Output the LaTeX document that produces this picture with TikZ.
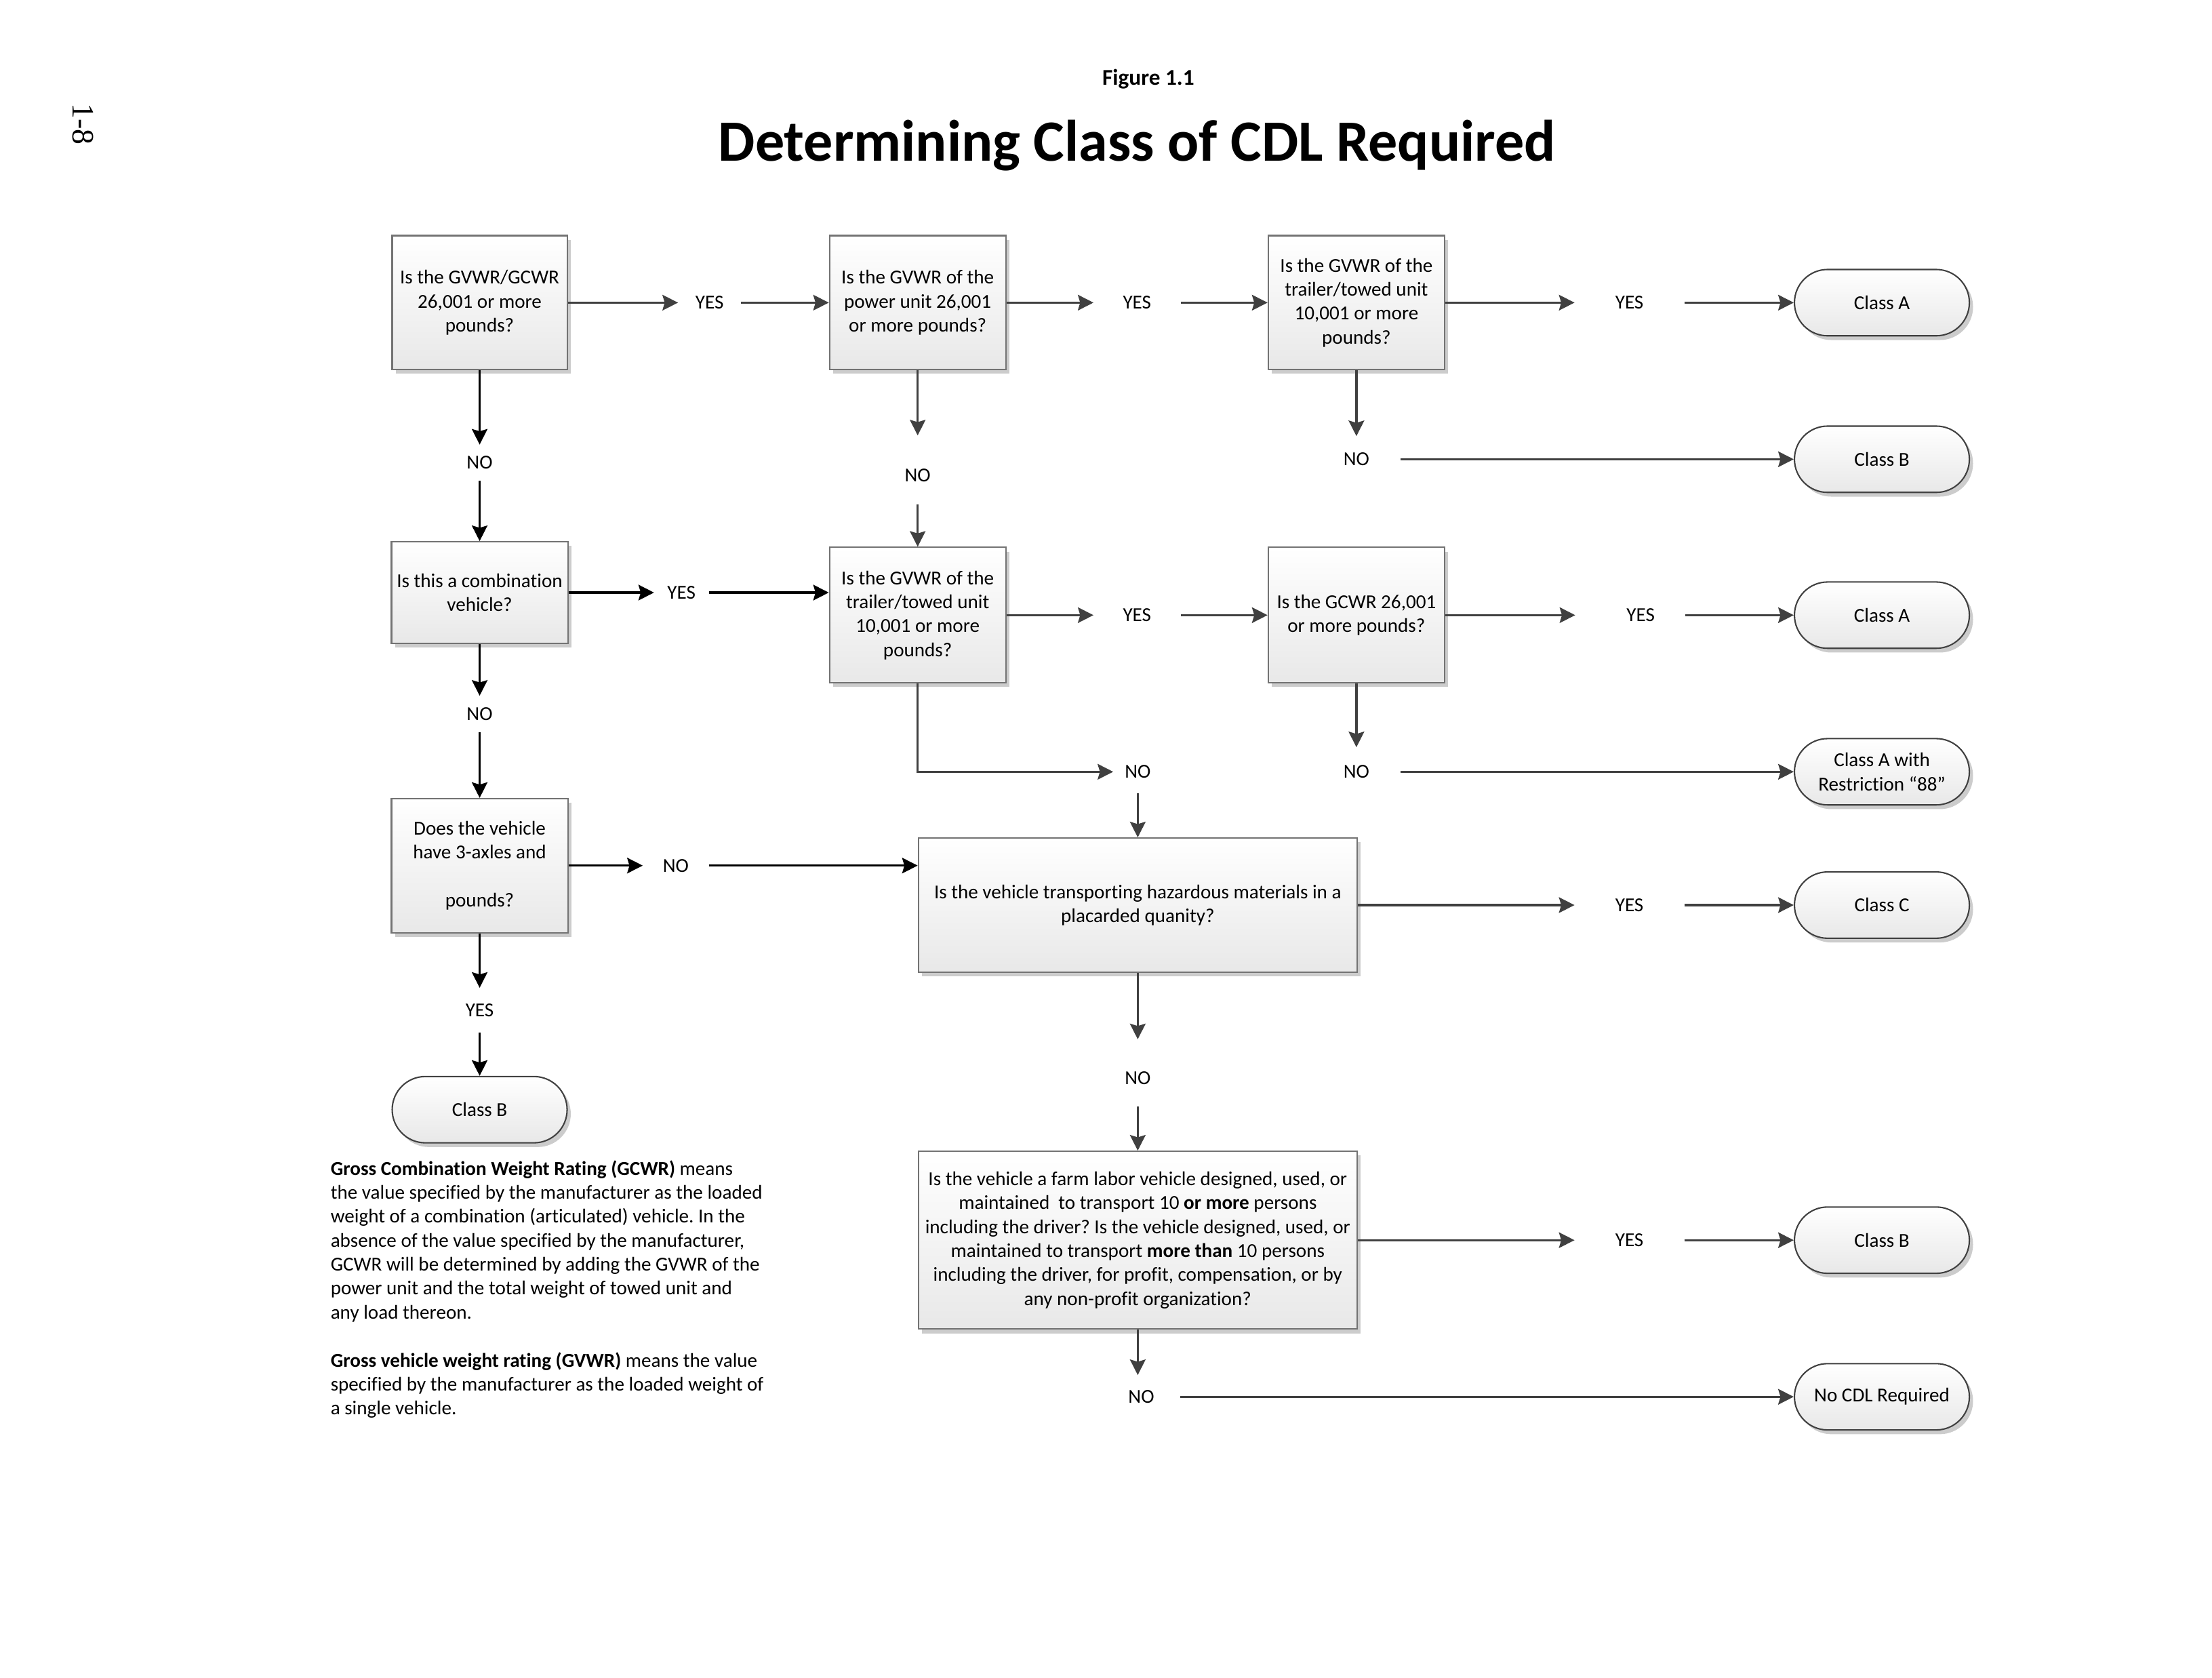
\documentclass[tikz,border=0pt]{standalone}
\usepackage{fontspec}
\setmainfont{Carlito}[Ligatures=NoCommon]
\newfontfamily\pgfont{Liberation Serif}
\usetikzlibrary{arrows.meta,shadows}
\frenchspacing
\begin{document}
\begin{tikzpicture}[x=0.5pt,y=-0.5pt,
  every node/.style={font=\fontsize{7}{8.5}\selectfont},
  qbox/.style={draw=black!55, line width=0.5pt, top color=white, bottom color=black!9,
    align=center, inner sep=1pt,
    drop shadow={shadow xshift=1.3pt,shadow yshift=-1.5pt,fill=black!20,opacity=1}},
  qa/.style={qbox, minimum width=62.5pt, minimum height=47.5pt},
  qw/.style={qbox, minimum width=155.5pt},
  pill/.style={draw=black!75, line width=0.5pt, top color=white, bottom color=black!9,
    rounded corners=11.75pt, minimum width=62pt, minimum height=23.5pt, align=center, inner sep=1pt,
    drop shadow={shadow xshift=1.3pt,shadow yshift=-1.5pt,fill=black!20,opacity=1}},
  lbl/.style={inner sep=0pt},
  arr/.style={-{Stealth[length=5.5pt,width=5.5pt,inset=0.8pt]}, line width=0.8pt, draw=black!75},
  arrk/.style={arr, draw=black}]
\useasboundingbox (0,0) rectangle (1568,1189);

% titles
\node[font=\bfseries\fontsize{8}{9.6}\selectfont] (fig) at (814,56) {Figure 1.1};
\node[font=\bfseries\fontsize{20.7}{24}\selectfont] (title) at (806,103) {Determining Class of CDL Required};
\node[font=\pgfont\fontsize{11}{13}\selectfont, rotate=-90] (pg) at (59,88) {1-8};

% question boxes
\node[qa, minimum width=62pt] (b1) at (340,214.5) {Is the GVWR/GCWR\\26,001 or more\\pounds?};
\node[qa] (b2) at (650.5,214.5) {Is the GVWR of the\\power unit 26,001\\or more pounds?};
\node[qa] (b3) at (961.5,214.5) {Is the GVWR of the\\trailer/towed unit\\10,001 or more\\pounds?};
\node[qbox, minimum width=62.5pt, minimum height=36pt] (b4) at (340,420) {Is this a combination\\vehicle?};
\node[qa, minimum height=48pt] (b5) at (650.5,436) {Is the GVWR of the\\trailer/towed unit\\10,001 or more\\pounds?};
\node[qa, minimum height=48pt] (b6) at (961.5,436) {Is the GCWR 26,001\\or more pounds?};
\node[qa] (b7) at (340,613.5) {Does the vehicle\\have 3-axles and\\\mbox{}\\pounds?};
\node[qw, minimum height=47.5pt] (b8) at (806.5,641.5) {Is the vehicle transporting hazardous materials in a\\placarded quanity?};
\node[qw, minimum height=63pt] (b9) at (806.5,879) {Is the vehicle a farm labor vehicle designed, used, or\\maintained\ \ to transport 10 \textbf{or more} persons\\including the driver? Is the vehicle designed, used, or\\maintained to transport \textbf{more than} 10 persons\\including the driver, for profit, compensation, or by\\any non-profit organization?};

% terminals
\node[pill] (t1) at (1334,214.5) {Class A};
\node[pill] (t2) at (1334,325.5) {Class B};
\node[pill] (t3) at (1334,436) {Class A};
\node[pill] (t4) at (1334,547) {Class A with\\Restriction “88”};
\node[pill] (t5) at (1334,641.5) {Class C};
\node[pill] (t6) at (340,786.5) {Class B};
\node[pill] (t7) at (1334,879) {Class B};
\node[pill] (t8) at (1334,990) {No CDL Required};

% labels
\node[lbl, minimum width=22pt] (l1) at (503,214.5) {YES};
\node[lbl, minimum width=30.5pt] (l2) at (806,214.5) {YES};
\node[lbl, minimum width=38.5pt] (l3) at (1155,214.5) {YES};
\node[lbl, minimum height=12.5pt] (l4) at (340,328) {NO};
\node[lbl, minimum height=20pt] (l5) at (650.5,337) {NO};
\node[lbl, minimum width=31pt, minimum height=16pt] (l6) at (961.5,325.5) {NO};
\node[lbl, minimum width=19pt] (l7) at (483,420) {YES};
\node[lbl, minimum width=30.5pt] (l8) at (806,436) {YES};
\node[lbl, minimum width=31pt] (l9) at (1163,436) {YES};
\node[lbl, minimum width=17pt, minimum height=15pt] (l10) at (806.5,547) {NO};
\node[lbl, minimum width=31pt, minimum height=17pt] (l11) at (961.5,547) {NO};
\node[lbl, minimum height=12.5pt] (l12) at (340,506) {NO};
\node[lbl, minimum width=23pt] (l13) at (479,613.5) {NO};
\node[lbl, minimum width=38.5pt] (l14) at (1155,641.5) {YES};
\node[lbl, minimum height=20pt] (l15) at (806.5,764) {NO};
\node[lbl, minimum height=15.5pt] (l16) at (340,716) {YES};
\node[lbl, minimum width=38.5pt] (l17) at (1155,879) {YES};
\node[lbl, minimum width=27pt, minimum height=15pt] (l18) at (809,990) {NO};

% definitions
\node[anchor=north west, align=left, inner sep=0pt] (defs) at (234,822) {\textbf{Gross Combination Weight Rating (GCWR)} means\\the value specified by the manufacturer as the loaded\\weight of a combination (articulated) vehicle. In the\\absence of the value specified by the manufacturer,\\GCWR will be determined by adding the GVWR of the\\power unit and the total weight of towed unit and\\any load thereon.\\[8.5pt]\textbf{Gross vehicle weight rating (GVWR)} means the value\\specified by the manufacturer as the loaded weight of\\a single vehicle.};

% connectors row 1
\draw[arr] (b1.east) -- (l1.west);
\draw[arr] (l1.east) -- (b2.west);
\draw[arr] (b2.east) -- (l2.west);
\draw[arr] (l2.east) -- (b3.west);
\draw[arr] (b3.east) -- (l3.west);
\draw[arr] (l3.east) -- (t1.west);
\draw[arrk] (b1.south) -- (l4.north);
\draw[arrk] (l4.south) -- (b4.north);
\draw[arr, shorten >=4pt] (b2.south) -- (l5.north);
\draw[arr] (l5.south) -- (b5.north);
\draw[arr] (b3.south) -- (l6.north);
\draw[arr] (l6.east) -- (t2.west);
% row 2
\draw[arrk] (b4.east) -- (l7.west);
\draw[arrk] (l7.east) -- (l7.east -| b5.west);
\draw[arr] (b5.east) -- (l8.west);
\draw[arr] (l8.east) -- (b6.west);
\draw[arr, shorten >=7.5pt] (b6.east) -- (l9.west);
\draw[arr] (l9.east) -- (t3.west);
\draw[arr] (b5.south) |- (l10.west);
\draw[arr] (b6.south) -- (l11.north);
\draw[arr] (l11.east) -- (t4.west);
\draw[arrk] (b4.south) -- (l12.north);
\draw[arrk] (l12.south) -- (b7.north);
\draw[arr] (l10.south) -- (b8.north);
% row 3
\draw[arrk] (b7.east) -- (l13.west);
\draw[arrk] (l13.east) -- (l13.east -| b8.west);
\draw[arr] (b8.east) -- (l14.west);
\draw[arr] (l14.east) -- (t5.west);
\draw[arr, shorten >=3.5pt] (b8.south) -- (l15.north);
\draw[arr] (l15.south) -- (b9.north);
\draw[arrk] (b7.south) -- (l16.north);
\draw[arrk] (l16.south) -- (t6.north);
% row 4
\draw[arr] (b9.east) -- (l17.west);
\draw[arr] (l17.east) -- (t7.west);
\draw[arr] (b9.south) -- (b9.south |- l18.north);
\draw[arr] (l18.east) -- (t8.west);
\end{tikzpicture}
\end{document}
